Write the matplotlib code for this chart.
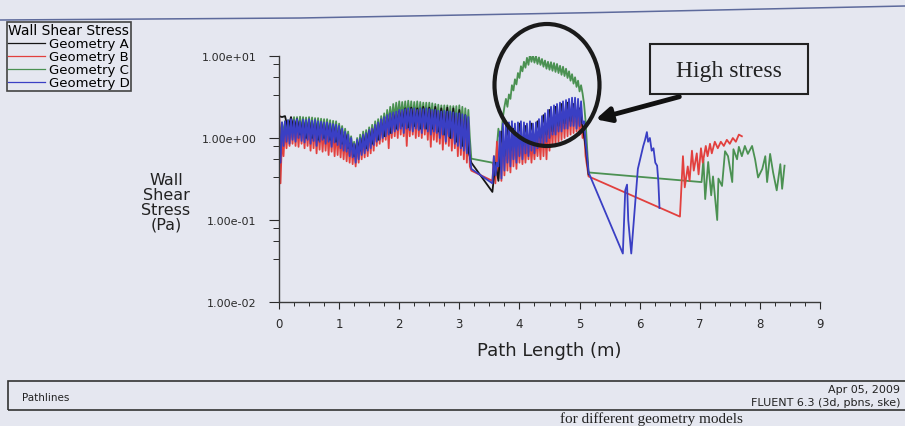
import numpy as np
import matplotlib.pyplot as plt
from matplotlib.lines import Line2D
from matplotlib.patches import Ellipse, Rectangle, FancyArrowPatch
from matplotlib.ticker import MultipleLocator, LogLocator, NullFormatter, FuncFormatter

W, H = 905, 427
BG = '#e5e7f0'

# path length sample grids (m) of the two wall sections
x_fine1 = np.linspace(0.0, 3.2, 129)
x_fine2 = np.linspace(3.55, 5.15, 65)
x_coarse1 = np.linspace(0.0, 3.2, 65)
x_coarse2 = np.linspace(3.55, 5.15, 33)

# wall shear stress (Pa)
geo_a_1 = [1.85, 1.8, 1.85, 1.3, 1.8, 1.2, 1.7, 1.1, 1.6, 1.0,
           1.6, 1.0, 1.55, 0.95, 1.5, 1.0, 1.45, 0.95, 1.4, 0.9,
           1.3, 0.85, 1.15, 0.75, 0.9, 0.6, 0.9, 0.7, 1.05, 0.75,
           1.2, 0.85, 1.35, 0.95, 1.55, 1.05, 1.75, 1.15, 1.95, 1.3,
           2.1, 1.4, 2.3, 1.35, 2.35, 1.4, 2.3, 1.3, 2.4, 1.3,
           2.35, 1.3, 2.4, 1.2, 2.3, 1.1, 2.35, 1.0, 2.3, 0.9,
           2.2, 0.8, 1.9, 0.7, 0.5]
geo_a_2 = [0.22, 0.5, 0.3, 1.2, 0.6, 1.4, 0.7, 1.3, 0.8, 1.5,
           0.8, 1.4, 0.9, 1.5, 0.9, 1.6, 1.0, 1.9, 1.1, 2.2,
           1.2, 2.4, 1.4, 2.6, 1.5, 2.7, 1.6, 2.6, 1.8, 2.3,
           1.4, 0.8, 0.36]

geo_b_1 = [2.9, 0.28, 1.0, 0.6, 1.3, 0.75, 1.4, 0.8, 1.45, 0.85,
           1.5, 0.8, 1.45, 0.78, 1.5, 0.85, 1.45, 0.75, 1.5, 0.8,
           1.45, 0.7, 1.4, 0.75, 1.45, 0.65, 1.4, 0.72, 1.4, 0.68,
           1.35, 0.7, 1.35, 0.62, 1.3, 0.68, 1.3, 0.6, 1.25, 0.62,
           1.2, 0.58, 1.1, 0.55, 1.05, 0.52, 0.95, 0.5, 0.9, 0.48,
           0.8, 0.45, 0.85, 0.5, 0.95, 0.55, 1.0, 0.58, 1.1, 0.6,
           1.2, 0.65, 1.3, 0.7, 1.4, 0.8, 1.5, 0.85, 1.6, 0.9,
           1.7, 0.95, 1.8, 0.75, 1.9, 1.0, 1.95, 1.05, 2.0, 1.0,
           2.1, 1.1, 2.1, 1.05, 2.2, 0.8, 2.15, 1.05, 2.2, 1.1,
           2.2, 1.0, 2.15, 1.05, 2.2, 1.0, 2.1, 1.1, 2.1, 0.95,
           2.2, 0.78, 2.1, 0.95, 2.0, 0.9, 2.05, 0.85, 2.0, 0.72,
           1.95, 0.85, 1.9, 0.8, 1.9, 0.7, 1.85, 0.75, 1.8, 0.6,
           1.75, 0.62, 1.7, 0.55, 1.6, 0.5, 1.5, 0.45, 0.4]
geo_b_2 = [0.3, 0.6, 0.28, 0.9, 0.32, 1.0, 0.3, 1.1, 0.35, 1.0,
           0.4, 1.0, 0.38, 1.1, 0.45, 1.05, 0.42, 0.95, 0.5, 1.0,
           0.48, 1.0, 0.5, 0.95, 0.55, 1.0, 0.5, 0.95, 0.55, 1.0,
           0.6, 1.1, 0.55, 1.3, 0.6, 1.4, 0.55, 1.6, 0.7, 1.8,
           0.8, 2.0, 0.85, 2.2, 0.9, 2.4, 0.95, 2.5, 1.0, 2.6,
           1.05, 2.7, 1.1, 2.6, 1.15, 2.5, 1.2, 2.3, 1.1, 2.1,
           1.0, 1.2, 0.6, 0.45, 0.34]
x_b_3 = [6.67, 6.72, 6.75, 6.80, 6.83, 6.87, 6.90, 6.95, 6.98, 7.02,
         7.05, 7.10, 7.13, 7.17, 7.20, 7.25, 7.30, 7.35, 7.40, 7.45,
         7.50, 7.55, 7.60, 7.65, 7.70]
geo_b_3 = [0.11, 0.6, 0.25, 0.45, 0.3, 0.7, 0.4, 0.65, 0.36, 0.75,
           0.5, 0.8, 0.6, 0.85, 0.65, 0.9, 0.75, 0.9, 0.8, 0.95,
           0.85, 1.0, 0.9, 1.1, 1.05]

geo_c_1 = [1.6, 1.0, 1.55, 1.1, 1.6, 1.15, 1.65, 1.2, 1.75, 1.2,
           1.8, 1.25, 1.8, 1.2, 1.82, 1.25, 1.8, 1.2, 1.78, 1.2,
           1.8, 1.2, 1.78, 1.15, 1.75, 1.2, 1.75, 1.15, 1.72, 1.15,
           1.7, 1.1, 1.7, 1.1, 1.65, 1.05, 1.62, 1.05, 1.6, 1.0,
           1.5, 1.0, 1.4, 0.95, 1.3, 0.85, 1.2, 0.8, 1.05, 0.7,
           0.9, 0.65, 1.0, 0.7, 1.1, 0.8, 1.2, 0.85, 1.25, 0.9,
           1.35, 0.95, 1.45, 1.0, 1.6, 1.1, 1.7, 1.15, 1.85, 1.3,
           2.0, 1.4, 2.2, 1.5, 2.4, 1.6, 2.6, 1.7, 2.7, 1.75,
           2.8, 1.8, 2.75, 1.8, 2.8, 1.75, 2.85, 1.8, 2.8, 1.7,
           2.75, 1.8, 2.8, 1.75, 2.75, 1.8, 2.7, 1.75, 2.7, 1.7,
           2.7, 1.7, 2.65, 1.65, 2.6, 1.6, 2.55, 1.6, 2.5, 1.6,
           2.5, 1.55, 2.5, 1.5, 2.45, 1.5, 2.45, 1.45, 2.45, 1.4,
           2.5, 1.35, 2.4, 1.2, 2.3, 1.1, 2.2, 1.0, 0.56]
geo_c_2 = [0.5, 0.45, 0.42, 0.8, 1.3, 1.0, 1.1, 1.8, 2.4, 3.0,
           2.4, 3.4, 3.0, 4.4, 3.8, 5.2, 4.5, 6.2, 5.4, 7.5,
           6.5, 8.5, 7.2, 9.5, 7.8, 10.5, 8.5, 10.2, 8.3, 10.0,
           8.0, 9.6, 7.8, 9.2, 7.4, 8.8, 7.0, 8.5, 6.8, 8.4,
           6.6, 8.2, 6.4, 8.0, 6.2, 7.6, 5.9, 7.4, 5.7, 7.0,
           5.4, 6.5, 5.0, 6.0, 4.6, 5.5, 4.2, 5.0, 3.7, 4.4,
           3.5, 2.6, 1.6, 0.8, 0.38]
x_c_3 = [7.03, 7.06, 7.09, 7.14, 7.19, 7.22, 7.29, 7.31, 7.37, 7.42,
         7.47, 7.54, 7.56, 7.62, 7.65, 7.70, 7.75, 7.80, 7.87, 7.92,
         7.97, 8.04, 8.09, 8.12, 8.17, 8.22, 8.28, 8.34, 8.37, 8.41]
geo_c_3 = [0.29, 0.55, 0.18, 0.51, 0.2, 0.34, 0.10, 0.32, 0.26, 0.69,
           0.6, 0.29, 0.73, 0.55, 0.78, 0.6, 0.8, 0.64, 0.8, 0.55,
           0.33, 0.42, 0.6, 0.29, 0.64, 0.38, 0.23, 0.48, 0.24, 0.46]

geo_d_1 = [1.8, 0.5, 1.55, 0.8, 1.6, 0.9, 1.65, 0.85, 1.7, 0.95,
           1.65, 0.9, 1.7, 1.0, 1.6, 0.92, 1.68, 0.88, 1.65, 0.95,
           1.7, 0.85, 1.62, 0.92, 1.66, 0.8, 1.6, 0.9, 1.58, 0.95,
           1.55, 0.85, 1.55, 0.9, 1.5, 0.78, 1.48, 0.88, 1.45, 0.82,
           1.4, 0.75, 1.3, 0.7, 1.2, 0.68, 1.1, 0.6, 1.0, 0.58,
           0.85, 0.5, 0.95, 0.55, 1.0, 0.62, 1.1, 0.65, 1.15, 0.7,
           1.25, 0.75, 1.3, 0.82, 1.45, 0.9, 1.55, 0.95, 1.7, 1.0,
           1.8, 1.05, 1.9, 1.1, 2.0, 1.15, 2.05, 1.2, 2.1, 1.25,
           2.2, 1.3, 2.2, 1.15, 2.25, 1.3, 2.3, 1.25, 2.25, 1.2,
           2.3, 1.3, 2.2, 1.25, 2.3, 1.15, 2.25, 1.3, 2.3, 1.2,
           2.25, 1.1, 2.2, 1.2, 2.2, 1.15, 2.15, 1.0, 2.1, 1.1,
           2.15, 0.9, 2.1, 1.05, 2.1, 1.0, 2.05, 0.85, 2.0, 0.8,
           2.0, 0.75, 1.95, 0.7, 1.9, 0.65, 1.8, 0.6, 0.42]
geo_d_2 = [0.28, 0.6, 0.35, 0.5, 0.45, 1.2, 0.32, 1.5, 0.4, 1.6,
           0.5, 1.55, 0.45, 1.6, 0.55, 1.5, 0.5, 1.55, 0.6, 1.6,
           0.55, 1.55, 0.65, 1.5, 0.6, 1.6, 0.7, 1.5, 0.65, 1.55,
           0.75, 1.7, 0.8, 1.85, 0.85, 2.0, 0.9, 2.2, 1.0, 2.4,
           1.1, 2.5, 1.1, 2.6, 1.2, 2.7, 1.2, 2.8, 1.3, 2.9,
           1.3, 3.0, 1.4, 3.1, 1.4, 3.1, 1.3, 3.0, 1.4, 2.8,
           1.5, 1.6, 0.9, 0.6, 0.38]
x_d_3 = [5.72, 5.76, 5.79, 5.81, 5.86, 5.97, 6.06, 6.09, 6.12, 6.14,
         6.17, 6.20, 6.23, 6.26, 6.29, 6.31, 6.33]
geo_d_3 = [0.039, 0.23, 0.27, 0.10, 0.039, 0.42, 0.8, 0.95, 1.18, 0.9,
           1.0, 0.7, 0.75, 0.5, 0.46, 0.3, 0.14]

names = ['Geometry A', 'Geometry B', 'Geometry C', 'Geometry D']
colors = ['#151515', '#e2403e', '#4b9152', '#3a3fc4']

series = {
    'Geometry A': (np.concatenate([x_coarse1, x_coarse2]),
                   np.concatenate([geo_a_1, geo_a_2])),
    'Geometry B': (np.concatenate([x_fine1, x_fine2, x_b_3]),
                   np.concatenate([geo_b_1, geo_b_2, geo_b_3])),
    'Geometry C': (np.concatenate([x_fine1, x_fine2, x_c_3]),
                   np.concatenate([geo_c_1, geo_c_2, geo_c_3])),
    'Geometry D': (np.concatenate([x_fine1, x_fine2, x_d_3]),
                   np.concatenate([geo_d_1, geo_d_2, geo_d_3])),
}


def fx(px):
    return px / W


def fy(py):
    return 1 - py / H


fig = plt.figure(figsize=(W / 100, H / 100), dpi=100, facecolor=BG)
ax = fig.add_axes([fx(279), fy(303), 541 / W, 246 / H])
ax.set_facecolor(BG)

draw_order = ['Geometry C', 'Geometry B', 'Geometry A', 'Geometry D']
for name in draw_order:
    c = colors[names.index(name)]
    xs, ys = series[name]
    ax.plot(xs, ys, color=c, lw=1.3)

ax.set_yscale('log')
ax.set_ylim(1e-2, 1e1)
ax.set_xlim(0, 9)
ax.yaxis.set_major_locator(LogLocator(base=10, numticks=10))
ax.yaxis.set_major_formatter(FuncFormatter(lambda v, p: '%.2e' % v))
ax.yaxis.set_minor_locator(LogLocator(base=10, subs=(3.3, 5.5, 8.0), numticks=10))
ax.yaxis.set_minor_formatter(NullFormatter())
ax.xaxis.set_major_locator(MultipleLocator(1))
ax.xaxis.set_minor_locator(MultipleLocator(0.25))
ax.xaxis.set_major_formatter(FuncFormatter(lambda v, p: '%d' % v))

for s in ['top', 'right']:
    ax.spines[s].set_visible(False)
for s in ['left', 'bottom']:
    ax.spines[s].set_color('#3a3a3a')
    ax.spines[s].set_linewidth(1.0)

ax.tick_params(axis='x', which='major', direction='out', length=5, width=0.8,
               pad=6, labelsize=8.5, colors='#2a2a2a')
ax.tick_params(axis='x', which='minor', direction='out', length=3, width=0.7, colors='#2a2a2a')
ax.tick_params(axis='y', which='major', direction='out', length=7, width=0.8,
               pad=9, labelsize=8, colors='#2a2a2a')
ax.tick_params(axis='y', which='minor', direction='out', length=4, width=0.7, colors='#2a2a2a')

ax.set_xlabel('Path Length (m)', fontsize=13, color='#222222', labelpad=8)
fig.text(fx(166), fy(203), 'Wall\nShear\nStress\n(Pa)', ha='center', va='center',
         fontsize=11.5, linespacing=1.0, color='#222222')

# legend box
handles = [Line2D([], [], color=c, lw=0.9) for c in colors]
leg = fig.legend(handles, names, title='Wall Shear Stress', loc='upper left',
                 bbox_to_anchor=(fx(7), fy(23)), fontsize=9.5, title_fontsize=10,
                 alignment='left', frameon=True, fancybox=False, framealpha=1,
                 edgecolor='#444444', facecolor=BG, handlelength=2.8,
                 handletextpad=0.25, labelspacing=0.0, borderpad=0.1,
                 borderaxespad=0)
leg.get_frame().set_linewidth(1.2)

# top frame line of the window (slightly skewed in the scan)
fig.add_artist(Line2D([fx(0), fx(300), fx(600), fx(905)],
                      [fy(21), fy(19), fy(13.5), fy(7)], color='#5d6a9c', lw=1.1))

# annotation
fig.add_artist(Ellipse((fx(547), fy(86)), 105 / W, 122 / H, fill=False,
                       lw=3, edgecolor='#1a1a1a', zorder=5))
fig.add_artist(Rectangle((fx(650), fy(95)), 158 / W, 50 / H, facecolor=BG,
                         edgecolor='#222222', lw=1.5, zorder=5))
fig.text(fx(729), fy(71), 'High stress', ha='center', va='center', fontsize=17,
         family='Liberation Serif', color='#222222', zorder=6)
fig.add_artist(FancyArrowPatch((fx(682), fy(97)), (fx(593), fy(121)),
                               transform=fig.transFigure, arrowstyle='-|>',
                               mutation_scale=22, lw=3.5, color='#111111', zorder=6))

# footer box
fig.add_artist(Rectangle((fx(8), fy(411)), 910 / W, 29 / H, fill=False,
                         edgecolor='#333333', lw=1.2))
fig.text(fx(22), fy(398), 'Pathlines', ha='left', va='center', fontsize=7.5, color='#222222')
fig.text(fx(900), fy(390), 'Apr 05, 2009', ha='right', va='center', fontsize=8, color='#222222')
fig.text(fx(900), fy(403), 'FLUENT 6.3 (3d, pbns, ske)', ha='right', va='center',
         fontsize=8, color='#222222')
fig.text(fx(560), fy(426), 'for different geometry models', ha='left', va='bottom',
         fontsize=11, family='Liberation Serif', color='#222222')

fig.savefig('out.png', dpi=100, facecolor=BG)
